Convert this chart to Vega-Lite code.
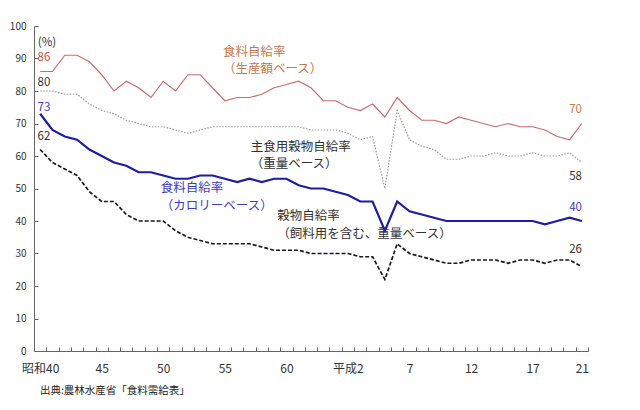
{
  "$schema": "https://vega.github.io/schema/vega-lite/v6.json",
  "width": 554,
  "height": 325,
  "autosize": {"type": "none"},
  "padding": {"left": 34, "top": 26, "right": 52, "bottom": 59},
  "background": "white",
  "config": {"view": {"stroke": null}, "font": "Noto Sans CJK JP"},
  "datasets": {
    "rates": [
      {"year": 1965, "prod": 86, "staple": 80, "cal": 73, "grain": 62},
      {"year": 1966, "prod": 86, "staple": 80, "cal": 68, "grain": 58},
      {"year": 1967, "prod": 91, "staple": 79, "cal": 66, "grain": 56},
      {"year": 1968, "prod": 91, "staple": 79, "cal": 65, "grain": 54},
      {"year": 1969, "prod": 89, "staple": 76, "cal": 62, "grain": 49},
      {"year": 1970, "prod": 85, "staple": 74, "cal": 60, "grain": 46},
      {"year": 1971, "prod": 80, "staple": 73, "cal": 58, "grain": 46},
      {"year": 1972, "prod": 83, "staple": 71, "cal": 57, "grain": 42},
      {"year": 1973, "prod": 81, "staple": 70, "cal": 55, "grain": 40},
      {"year": 1974, "prod": 78, "staple": 69, "cal": 55, "grain": 40},
      {"year": 1975, "prod": 83, "staple": 69, "cal": 54, "grain": 40},
      {"year": 1976, "prod": 80, "staple": 68, "cal": 53, "grain": 37},
      {"year": 1977, "prod": 85, "staple": 67, "cal": 53, "grain": 35},
      {"year": 1978, "prod": 85, "staple": 68, "cal": 54, "grain": 34},
      {"year": 1979, "prod": 81, "staple": 69, "cal": 54, "grain": 33},
      {"year": 1980, "prod": 77, "staple": 69, "cal": 53, "grain": 33},
      {"year": 1981, "prod": 78, "staple": 69, "cal": 52, "grain": 33},
      {"year": 1982, "prod": 78, "staple": 69, "cal": 53, "grain": 33},
      {"year": 1983, "prod": 79, "staple": 69, "cal": 52, "grain": 32},
      {"year": 1984, "prod": 81, "staple": 69, "cal": 53, "grain": 31},
      {"year": 1985, "prod": 82, "staple": 69, "cal": 53, "grain": 31},
      {"year": 1986, "prod": 83, "staple": 69, "cal": 51, "grain": 31},
      {"year": 1987, "prod": 81, "staple": 68, "cal": 50, "grain": 30},
      {"year": 1988, "prod": 77, "staple": 68, "cal": 50, "grain": 30},
      {"year": 1989, "prod": 77, "staple": 68, "cal": 49, "grain": 30},
      {"year": 1990, "prod": 75, "staple": 67, "cal": 48, "grain": 30},
      {"year": 1991, "prod": 74, "staple": 65, "cal": 46, "grain": 29},
      {"year": 1992, "prod": 76, "staple": 66, "cal": 46, "grain": 29},
      {"year": 1993, "prod": 72, "staple": 50, "cal": 37, "grain": 22},
      {"year": 1994, "prod": 78, "staple": 74, "cal": 46, "grain": 33},
      {"year": 1995, "prod": 74, "staple": 65, "cal": 43, "grain": 30},
      {"year": 1996, "prod": 71, "staple": 63, "cal": 42, "grain": 29},
      {"year": 1997, "prod": 71, "staple": 62, "cal": 41, "grain": 28},
      {"year": 1998, "prod": 70, "staple": 59, "cal": 40, "grain": 27},
      {"year": 1999, "prod": 72, "staple": 59, "cal": 40, "grain": 27},
      {"year": 2000, "prod": 71, "staple": 60, "cal": 40, "grain": 28},
      {"year": 2001, "prod": 70, "staple": 60, "cal": 40, "grain": 28},
      {"year": 2002, "prod": 69, "staple": 61, "cal": 40, "grain": 28},
      {"year": 2003, "prod": 70, "staple": 60, "cal": 40, "grain": 27},
      {"year": 2004, "prod": 69, "staple": 60, "cal": 40, "grain": 28},
      {"year": 2005, "prod": 69, "staple": 61, "cal": 40, "grain": 28},
      {"year": 2006, "prod": 68, "staple": 60, "cal": 39, "grain": 27},
      {"year": 2007, "prod": 66, "staple": 60, "cal": 40, "grain": 28},
      {"year": 2008, "prod": 65, "staple": 61, "cal": 41, "grain": 28},
      {"year": 2009, "prod": 70, "staple": 58, "cal": 40, "grain": 26}
    ],
    "labels": [
      {"year": 1979.85, "value": 92.1, "text": "食料自給率", "group": "prod"},
      {"year": 1979.85, "value": 86.7, "text": "（生産額ベース）", "group": "prod"},
      {"year": 1982.1, "value": 62.9, "text": "主食用穀物自給率", "group": "dark"},
      {"year": 1982.1, "value": 57.4, "text": "（重量ベース）", "group": "dark"},
      {"year": 1974.8, "value": 50.2, "text": "食料自給率", "group": "cal"},
      {"year": 1974.8, "value": 44.6, "text": "（カロリーベース）", "group": "cal"},
      {"year": 1984.26, "value": 41.6, "text": "穀物自給率", "group": "dark"},
      {"year": 1984.26, "value": 36.1, "text": "（飼料用を含む、重量ベース）", "group": "dark"}
    ],
    "numbers": [
      {"year": 1965.55, "value": 94.8, "text": "(%)", "group": "dark"},
      {"year": 1965.31, "value": 90.2, "text": "86", "group": "prodnum"},
      {"year": 1965.31, "value": 82.4, "text": "80", "group": "dark"},
      {"year": 1965.31, "value": 74.7, "text": "73", "group": "cal"},
      {"year": 1965.31, "value": 65.8, "text": "62", "group": "dark"},
      {"year": 2008.49, "value": 74.2, "text": "70", "group": "prod"},
      {"year": 2008.49, "value": 53.6, "text": "58", "group": "dark"},
      {"year": 2008.49, "value": 43.9, "text": "40", "group": "cal"},
      {"year": 2008.49, "value": 31.1, "text": "26", "group": "dark"}
    ],
    "source": [
      {"year": 1964.98, "value": -12.3, "text": "出典:農林水産省「食料需給表」"}
    ]
  },
  "encoding": {
    "x": {
      "field": "year",
      "type": "quantitative",
      "scale": {"domain": [1964.5, 2009.5], "nice": false, "zero": false},
      "axis": {
        "title": null,
        "grid": false,
        "values": [1964.5, 1965.5, 1966.5, 1967.5, 1968.5, 1969.5, 1970.5, 1971.5, 1972.5, 1973.5, 1974.5, 1975.5, 1976.5, 1977.5, 1978.5, 1979.5, 1980.5, 1981.5, 1982.5, 1983.5, 1984.5, 1985.5, 1986.5, 1987.5, 1988.5, 1989.5, 1990.5, 1991.5, 1992.5, 1993.5, 1994.5, 1995.5, 1996.5, 1997.5, 1998.5, 1999.5, 2000.5, 2001.5, 2002.5, 2003.5, 2004.5, 2005.5, 2006.5, 2007.5, 2008.5, 2009.5],
        "labelExpr": "datum.value==1964.5?'昭和40':datum.value==1969.5?'45':datum.value==1974.5?'50':datum.value==1979.5?'55':datum.value==1984.5?'60':datum.value==1989.5?'平成2':datum.value==1994.5?'7':datum.value==1999.5?'12':datum.value==2004.5?'17':datum.value==2008.5?'21':''",
        "labelOffset": 6.15,
        "labelPadding": 16,
        "labelFontSize": 12,
        "labelColor": "#333333",
        "labelOverlap": false,
        "labelFlush": false,
        "labelBound": false,
        "domainColor": "#666666",
        "tickColor": "#666666",
        "tickSize": -4
      }
    },
    "y": {
      "field": "value",
      "type": "quantitative",
      "scale": {"domain": [0, 100], "nice": false},
      "axis": {
        "title": null,
        "grid": false,
        "values": [0, 10, 20, 30, 40, 50, 60, 70, 80, 90, 100],
        "labelFontSize": 10,
        "labelColor": "#333333",
        "labelPadding": 12,
        "domainColor": "#666666",
        "tickColor": "#666666",
        "tickSize": -4
      }
    }
  },
  "layer": [
    {
      "data": {"name": "rates"},
      "transform": [{"fold": ["prod"], "as": ["series", "value"]}],
      "mark": {"type": "line", "stroke": "#d06a6a", "strokeWidth": 1.2}
    },
    {
      "data": {"name": "rates"},
      "transform": [{"fold": ["staple"], "as": ["series", "value"]}],
      "mark": {"type": "line", "stroke": "#9a9a9a", "strokeWidth": 1.2, "strokeDash": [1.5, 1.5]}
    },
    {
      "data": {"name": "rates"},
      "transform": [{"fold": ["cal"], "as": ["series", "value"]}],
      "mark": {"type": "line", "stroke": "#1c1ca8", "strokeWidth": 2.2}
    },
    {
      "data": {"name": "rates"},
      "transform": [{"fold": ["grain"], "as": ["series", "value"]}],
      "mark": {"type": "line", "stroke": "#1a1a1a", "strokeWidth": 1.7, "strokeDash": [4, 2]}
    },
    {
      "data": {"name": "labels"},
      "mark": {"type": "text", "align": "left", "baseline": "middle", "fontSize": 12.5},
      "encoding": {
        "text": {"field": "text"},
        "color": {"field": "group", "type": "nominal", "legend": null,
          "scale": {"domain": ["prod", "prodnum", "dark", "cal"], "range": ["#c8784a", "#c85050", "#333333", "#3c3cc8"]}}
      }
    },
    {
      "data": {"name": "numbers"},
      "mark": {"type": "text", "align": "center", "baseline": "middle", "fontSize": 11.5},
      "encoding": {
        "text": {"field": "text"},
        "color": {"field": "group", "type": "nominal", "legend": null,
          "scale": {"domain": ["prod", "prodnum", "dark", "cal"], "range": ["#c8784a", "#c85050", "#333333", "#3c3cc8"]}}
      }
    },
    {
      "data": {"name": "source"},
      "mark": {"type": "text", "align": "left", "baseline": "middle", "fontSize": 10.5, "color": "#222222"},
      "encoding": {"text": {"field": "text"}}
    }
  ]
}
